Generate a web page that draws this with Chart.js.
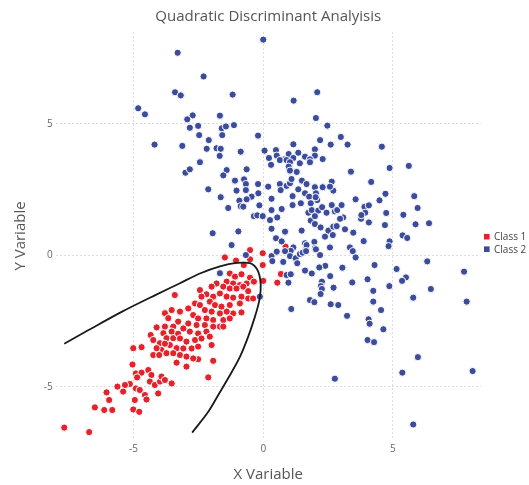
<!DOCTYPE html>
<html>
<head>
<meta charset="utf-8">
<script src="https://cdn.jsdelivr.net/npm/chart.js@4.4.1/dist/chart.umd.min.js"></script>
<style>
  html, body { margin: 0; padding: 0; background: #ffffff; overflow: hidden; }
  #wrap { width: 529px; height: 485px; }
</style>
</head>
<body>
<div id="wrap"><canvas id="c" width="529" height="485"></canvas></div>
<script>
// ---------- data ----------
const chartTitle = 'Quadratic Discriminant Analyisis';
const xAxisTitle = 'X Variable';
const yAxisTitle = 'Y Variable';
const seriesNames = ['Class 1', 'Class 2'];
const xTickValues = [-5, 0, 5];
const yTickValues = [-5, 0, 5];

// Class 1 (red) points [x, y]
const class1Points = [
  [-1.48,-0.08],[-1.05,-0.2],[-0.51,-0.15],[-0.75,-0.37],[-0.51,0.2],[-0.02,0.08],[-0.02,-0.37],
  [0.68,-0.71],[0.54,-1.04],[0.0,-0.97],[0.86,0.33],
  [-3.41,-1.51],[-3.79,-2.20],[-3.53,-2.08],[-3.66,-2.39],[-3.28,-2.52],[-3.47,-2.71],[-3.79,-2.71],
  [-4.11,-2.74],[-3.85,-2.96],[-3.53,-2.90],[-3.73,-3.15],[-3.47,-3.15],[-4.34,-3.03],[-3.98,-3.34],
  [-4.24,-3.22],[-3.92,-3.60],[-3.60,-3.41],[-3.34,-3.53],[-4.11,-3.53],[-4.24,-3.79],[-4.01,-3.79],
  [-3.73,-3.72],[-3.47,-3.72],[-5.01,-3.53],[-3.28,-2.98],[-3.79,-3.36],[-4.69,-3.49],[-2.51,-3.95],
  [-1.29,-0.69],[-1.09,-0.81],[-0.84,-0.72],[-0.51,-0.85],[-0.36,-1.0],[-1.41,-1.0],[-1.16,-1.07],
  [-0.90,-1.13],[-0.64,-1.07],[-1.80,-1.07],[-1.99,-1.19],[-1.54,-1.19],[-1.29,-1.26],[-1.03,-1.26],
  [-0.77,-1.19],[-0.58,-1.36],[-2.44,-1.32],[-2.19,-1.48],[-1.93,-1.57],[-1.67,-1.45],[-1.41,-1.57],
  [-1.16,-1.61],[-0.84,-1.57],[-0.58,-1.64],[-0.39,-1.64],[-2.38,-1.57],[-2.63,-1.83],[-2.44,-1.89],
  [-2.06,-1.76],[-1.86,-1.89],[-1.61,-1.95],[-1.29,-1.89],[-0.90,-1.83],[-0.84,-2.17],[-1.16,-2.21],
  [-1.41,-2.14],[-1.67,-2.21],[-1.99,-2.14],[-2.25,-2.08],[-2.89,-2.02],[-3.21,-2.14],[-2.70,-2.27],
  [-2.51,-2.40],[-2.19,-2.40],[-1.93,-2.46],[-1.54,-2.46],[-1.29,-2.40],[-1.67,-2.71],[-1.93,-2.71],
  [-2.25,-2.65],[-2.57,-2.65],[-2.89,-2.59],[-3.08,-2.78],[-2.83,-2.90],[-2.51,-2.97],[-2.19,-2.90],
  [-3.21,-3.16],[-2.96,-3.28],[-2.63,-3.22],[-2.38,-3.16],[-2.06,-3.09],[-3.08,-3.54],[-2.76,-3.54],
  [-2.51,-3.47],[-3.21,-3.79],[-2.96,-3.85],[-2.70,-3.92],[-1.99,-3.41],[-1.93,-4.01],[-2.96,-4.23],
  [-2.12,-4.64],[-1.54,-2.71],
  [-5.04,-4.15],[-4.91,-4.49],[-4.69,-4.46],[-4.86,-4.64],[-4.43,-4.36],[-4.31,-4.55],[-4.37,-4.80],
  [-4.18,-4.93],[-3.98,-4.80],[-3.92,-4.61],[-3.79,-4.74],[-3.53,-4.87],[-3.34,-4.08],[-4.05,-5.25],
  [-5.14,-4.89],[-5.33,-4.93],[-5.62,-4.99],[-5.40,-5.18],[-6.04,-5.21],[-5.94,-5.50],[-6.49,-5.78],
  [-6.13,-5.88],[-5.82,-5.88],[-4.95,-5.50],[-5.01,-5.86],[-4.78,-5.95],[-4.91,-5.06],[-4.76,-5.12],
  [-4.56,-5.31],[-4.50,-5.48],[-7.67,-6.55],[-6.71,-6.72]
];

// Class 2 (blue) points [x, y]
const class2Points = [
  [0.0,8.2],[-3.3,7.7],[-2.3,6.8],[-3.4,6.2],[-3.18,6.08],[-1.18,6.11],[2.08,6.2],[1.17,5.88],
  [-4.82,5.59],[-4.56,5.36],[-2.72,5.32],[-2.93,5.17],[-1.67,5.31],[2.03,5.22],[-2.83,4.85],[-2.51,4.92],
  [-1.6,4.83],[-1.44,4.9],[-1.13,4.95],[-2.47,4.57],[-1.58,4.57],[-0.2,4.55],[-2.1,4.38],[-4.19,4.21],
  [-3.12,4.16],[-2.18,4.05],[-1.8,4.07],[-1.64,4.05],[-0.87,3.94],[-1.68,3.78],[0.05,3.98],[0.49,4.0],
  [1.16,4.22],[0.52,3.79],[0.98,3.85],[1.35,3.9],[1.99,4.03],[1.99,3.79],[1.61,3.75],[0.22,3.7],
  [0.81,3.65],[1.16,3.7],[1.8,3.65],[2.19,4.38],[2.47,4.93],[2.99,4.5],[3.25,4.21],[2.6,4.21],
  [4.57,4.13],[4.87,3.32],[5.61,3.4],[3.38,3.18],[4.16,2.79],[4.71,2.34],[4.48,2.09],[5.82,2.25],
  [5.95,1.8],[5.4,1.54],[5.87,1.18],[6.39,1.22],[4.74,1.61],[4.69,1.15],[5.37,0.76],[5.55,0.66],
  [4.87,0.53],[4.83,0.35],[3.56,2.13],[3.9,1.84],[4.07,1.9],[3.93,1.62],[3.77,1.39],[3.78,1.53],
  [4.07,1.25],[3.87,0.54],[-3.0,3.14],[0.3,3.44],[0.64,3.62],[0.9,3.62],[1.03,3.54],[0.98,3.37],
  [1.03,3.22],[1.41,3.5],[1.29,3.17],[1.8,3.54],[2.29,3.66],[-2.44,3.54],[-1.41,3.24],[-1.54,3.04],
  [-0.64,3.27],[-2.83,3.27],[-1.09,2.84],[-0.74,2.89],[-0.67,2.71],[-1.03,2.46],[-0.67,2.48],[-0.2,2.71],
  [-0.19,2.36],[-0.45,2.23],[0.19,2.61],[0.64,2.71],[0.67,2.48],[0.9,2.64],[1.03,2.74],[1.09,2.9],
  [1.35,2.51],[1.13,2.25],[1.61,2.36],[1.49,2.84],[1.67,2.71],[1.99,2.59],[2.03,2.36],[2.08,2.1],
  [1.77,2.23],[1.83,1.98],[2.64,2.8],[2.7,2.46],[2.29,2.59],[-2.12,2.51],[-1.64,2.21],[-1.35,1.8],
  [-0.92,2.08],[-0.87,1.87],[-0.77,1.85],[-0.64,2.13],[-0.15,1.9],[0.32,2.15],[0.32,1.72],[0.71,1.76],
  [1.13,1.91],[1.45,1.98],[1.74,1.62],[1.87,1.72],[2.12,1.7],[2.27,1.83],[2.44,1.62],[2.64,1.91],
  [2.76,1.67],[2.85,1.72],[3.02,1.91],[-0.36,1.49],[-0.23,1.52],[-0.02,1.49],[0.54,1.44],[0.26,1.34],
  [0.32,1.01],[0.84,0.9],[1.48,0.94],[1.83,1.32],[1.99,1.19],[2.21,1.06],[2.51,0.94],[2.7,1.09],
  [2.83,1.11],[3.08,1.44],[3.15,0.99],[3.47,0.86],[-1.95,0.84],[-0.96,0.91],[0.49,0.65],[0.71,0.53],
  [1.61,0.46],[1.97,0.51],[2.38,0.71],[2.68,0.77],[-1.22,0.39],[1.16,0.3],[1.65,0.27],[1.99,0.27],
  [2.57,0.3],[3.34,0.3],[2.57,2.61],[1.99,1.49],[2.02,2.21],[2.96,1.39],[1.06,0.17],[0.84,0.16],
  [0.32,-0.03],[0.52,0.14],[0.35,-0.22],[0.77,-0.25],[1.03,-0.03],[1.25,-0.11],[1.31,-0.3],[1.41,0.05],
  [1.52,0.1],[1.67,0.39],[1.65,0.16],[2.03,0.23],[2.19,0.01],[3.45,0.16],[3.56,-0.08],[6.32,-0.23],
  [7.74,-0.62],[4.29,-0.37],[5.14,-0.52],[5.5,-0.84],[5.35,-0.97],[6.46,-1.28],[5.78,-1.61],[7.84,-1.76],
  [4.86,-1.17],[4.24,-1.35],[4.24,-1.76],[4.02,-0.91],[4.54,-2.08],[4.06,-2.43],[4.1,-2.6],[4.63,-2.81],
  [4.02,-3.22],[4.27,-3.3],[5.96,-3.87],[5.36,-4.46],[8.07,-4.4],[2.76,-4.69],[5.78,-6.43],[3.43,-1.03],
  [3.23,-2.3],[3.05,-0.47],[2.58,-0.79],[2.71,-1.23],[2.39,-0.4],[2.16,-0.46],[2.26,-1.0],[2.22,-1.17],
  [2.26,-1.28],[2.21,-1.47],[1.87,-0.69],[1.61,-0.58],[2.6,-1.86],[2.89,-1.89],[1.8,-1.7],[1.97,-1.78],
  [1.08,-2.04],[0.9,-0.75],[1.06,-0.72],[0.97,-1.04],[-0.13,-1.57],[-0.67,0.01],[-1.67,-0.68]
];

// QDA decision boundary [x, y]
const boundaryPoints = [
  [-7.67,-3.36],[-6.75,-2.85],[-5.46,-2.15],[-4.18,-1.52],[-3.21,-1.06],[-2.44,-0.69],[-1.67,-0.42],
  [-1.03,-0.29],[-0.51,-0.30],[-0.24,-0.53],[-0.12,-0.90],[-0.10,-1.30],[-0.16,-1.75],[-0.32,-2.33],
  [-0.58,-3.09],[-0.90,-3.86],[-1.28,-4.55],[-1.70,-5.25],[-2.12,-5.95],[-2.74,-6.74]
];

const xRange = [-8.0, 8.385];
const yRange = [-7.02, 8.49];

// ---------- styles ----------
const redColor = '#e3222b';
const blueColor = '#3b4c9d';
const fontFamily = "'Open Sans', 'DejaVu Sans', sans-serif";

const toXY = arr => arr.map(p => ({ x: p[0], y: p[1] }));

const legendPlugin = {
  id: 'sideLegend',
  afterDraw(chart) {
    const ctx = chart.ctx;
    const items = [
      { label: chart.data.datasets[2].label, color: chart.data.datasets[2].backgroundColor },
      { label: chart.data.datasets[1].label, color: chart.data.datasets[1].backgroundColor }
    ];
    ctx.save();
    ctx.font = "10px " + fontFamily;
    ctx.textBaseline = 'middle';
    ctx.textAlign = 'left';
    items.forEach((it, i) => {
      const cy = 236.7 + i * 12.5;
      ctx.fillStyle = it.color;
      ctx.fillRect(484, cy - 2.8, 5.6, 5.6);
      ctx.fillStyle = '#444';
      ctx.fillText(it.label, 494, cy + 0.5);
    });
    ctx.restore();
  }
};

new Chart(document.getElementById('c'), {
  type: 'scatter',
  data: {
    datasets: [
      {
        label: 'Boundary',
        data: toXY(boundaryPoints),
        showLine: true,
        borderColor: '#1a1a1a',
        borderWidth: 1.8,
        pointRadius: 0,
        tension: 0.3,
        fill: false,
        order: 0
      },
      {
        label: seriesNames[1],
        data: toXY(class2Points),
        backgroundColor: blueColor,
        borderColor: '#ffffff',
        borderWidth: 1,
        pointRadius: 3.6,
        order: 1
      },
      {
        label: seriesNames[0],
        data: toXY(class1Points),
        backgroundColor: redColor,
        borderColor: '#ffffff',
        borderWidth: 1,
        pointRadius: 3.6,
        order: 2
      }
    ]
  },
  options: {
    responsive: false,
    animation: false,
    devicePixelRatio: 1,
    layout: { padding: { left: 0, right: 48.2, top: 0, bottom: 0 } },
    plugins: {
      legend: { display: false },
      tooltip: { enabled: false },
      title: {
        display: true,
        text: chartTitle,
        fullSize: false,
        color: '#555',
        font: { family: fontFamily, size: 15, weight: 'normal' },
        padding: { top: 8.2, bottom: 5.8 }
      }
    },
    scales: {
      x: {
        type: 'linear',
        min: xRange[0],
        max: xRange[1],
        afterFit: s => { s.height = 45; },
        afterBuildTicks: s => { s.ticks = xTickValues.map(v => ({ value: v })); },
        grid: { color: '#dddddd', lineWidth: 1, drawTicks: false },
        border: { display: false, dash: [2, 2] },
        ticks: { color: '#666', padding: 3, font: { family: fontFamily, size: 10 } },
        title: {
          display: true, text: xAxisTitle, color: '#555',
          font: { family: fontFamily, size: 15 },
          padding: { top: 0, bottom: 1 }
        }
      },
      y: {
        type: 'linear',
        min: yRange[0],
        max: yRange[1],
        afterFit: s => { s.width = 55.7; },
        afterBuildTicks: s => { s.ticks = yTickValues.map(v => ({ value: v })); },
        grid: { color: '#dddddd', lineWidth: 1, drawTicks: false },
        border: { display: false, dash: [2, 2] },
        ticks: { color: '#666', padding: 3, font: { family: fontFamily, size: 10 } },
        title: {
          display: true, text: yAxisTitle, color: '#555',
          font: { family: fontFamily, size: 15 },
          padding: { top: 12, bottom: 0 }
        }
      }
    }
  },
  plugins: [legendPlugin]
});
</script>
</body>
</html>
